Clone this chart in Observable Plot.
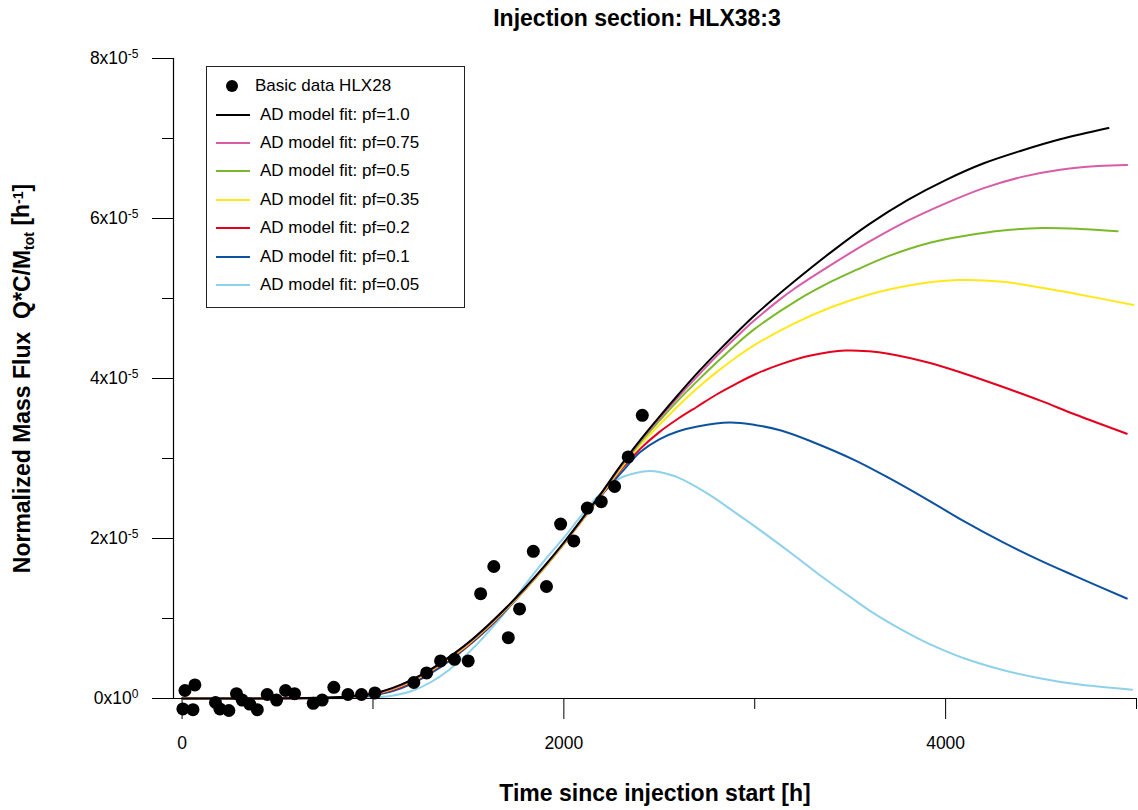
<!DOCTYPE html>
<html><head><meta charset="utf-8">
<script src="https://cdn.jsdelivr.net/npm/d3@7"></script>
<script src="https://cdn.jsdelivr.net/npm/@observablehq/plot@0.6"></script>
<style>
body{margin:0;background:#fff;font-family:"Liberation Sans",Arial,sans-serif;}
#wrap{position:relative;width:1138px;height:810px;}
#legend{position:absolute;left:206px;top:66px;width:257px;height:235px;border:1px solid #222;background:#fff;padding-top:5px;}
.row{height:28.4px;display:flex;align-items:center;font-size:17px;color:#000;white-space:nowrap;}
.row svg{flex:none;}
</style></head><body><div id="wrap"></div>
<script>
// ---- data (values in units of 1e-5 h^-1) ----
const obsT = [4,15,57,67,175,198,245,285,315,354,394,446,495,542,589,687,734,795,869,940,1010,1214,1281,1354,1427,1499,1564,1633,1709,1768,1840,1909,1983,2052,2123,2196,2266,2337,2411];
const obsQ = [-0.13,0.10,-0.14,0.17,-0.05,-0.13,-0.15,0.06,-0.02,-0.07,-0.14,0.05,-0.02,0.10,0.06,-0.06,-0.02,0.14,0.05,0.05,0.07,0.20,0.32,0.47,0.49,0.47,1.31,1.65,0.76,1.12,1.84,1.40,2.18,1.97,2.38,2.46,2.65,3.02,3.54];

const tEarly = [0,400,800,900,1000,1100,1200,1300,1400,1500,1600,1700,1800,1900,2000,2100,2200,2300];

const tPf100 = [2400,2500,2600,2700,2800,2900,3000,3100,3200,3400,3600,3800,4000,4200,4400,4600,4853];
const qPf100 = [0,0,0.015,0.03,0.06,0.13,0.23,0.36,0.52,0.70,0.91,1.14,1.39,1.66,1.95,2.26,2.58,2.92,
                3.23,3.52,3.80,4.07,4.32,4.56,4.79,5.00,5.20,5.58,5.93,6.23,6.48,6.69,6.85,6.99,7.13];

const tPf075 = [2400,2500,2600,2700,2800,2900,3000,3127,3200,3400,3600,3800,4000,4200,4400,4600,4800,4951];
const qPf075 = [0,0,0.014,0.028,0.058,0.125,0.225,0.355,0.515,0.695,0.905,1.135,1.385,1.655,1.945,2.255,2.575,2.91,
                3.22,3.50,3.77,4.03,4.28,4.51,4.73,4.98,5.11,5.42,5.71,5.97,6.19,6.38,6.52,6.61,6.655,6.67];

const tPf050 = [2400,2500,2600,2700,2800,2900,3000,3224,3400,3535,3700,3923,4117,4300,4505,4700,4901];
const qPf050 = [0,0,0.013,0.027,0.055,0.12,0.22,0.35,0.51,0.69,0.90,1.13,1.38,1.65,1.94,2.25,2.57,2.90,
                3.20,3.47,3.73,3.97,4.20,4.42,4.62,4.98,5.21,5.36,5.53,5.70,5.79,5.85,5.88,5.87,5.84];

const tPf035 = [2400,2500,2600,2700,2800,2900,3000,3200,3400,3600,3800,4062,4300,4487,4700,4984];
const qPf035 = [0,0,0.012,0.025,0.052,0.115,0.21,0.34,0.50,0.68,0.89,1.12,1.37,1.64,1.93,2.24,2.56,2.88,
                3.17,3.42,3.66,3.88,4.08,4.26,4.42,4.68,4.89,5.05,5.16,5.23,5.21,5.14,5.05,4.92];

const tPf020 = [2400,2500,2600,2700,2800,2900,3000,3138,3300,3476,3600,3700,3908,4100,4294,4500,4679,4949];
const qPf020 = [0,0,0.010,0.022,0.048,0.105,0.20,0.33,0.49,0.67,0.88,1.12,1.37,1.64,1.93,2.24,2.55,2.86,
                3.12,3.33,3.50,3.65,3.80,3.93,4.05,4.18,4.29,4.35,4.34,4.31,4.20,4.06,3.90,3.72,3.55,3.31];

const tPf010 = [2400,2500,2600,2700,2869,3000,3138,3300,3523,3700,3908,4100,4294,4500,4679,4949];
const qPf010 = [0,0,0.008,0.018,0.04,0.09,0.18,0.31,0.47,0.66,0.87,1.11,1.37,1.65,1.94,2.25,2.55,2.82,
                3.08,3.24,3.34,3.40,3.45,3.42,3.35,3.21,2.98,2.76,2.48,2.21,1.96,1.72,1.53,1.25];

const tPf005 = [2400,2455,2500,2600,2753,2900,3042,3200,3331,3500,3620,3800,3908,4100,4294,4500,4679,4977];
const qPf005 = [0,0,0.002,0.005,0.012,0.035,0.09,0.20,0.36,0.57,0.82,1.10,1.43,1.73,2.01,2.31,2.58,2.76,
                2.83,2.845,2.83,2.76,2.56,2.32,2.08,1.80,1.56,1.27,1.07,0.82,0.69,0.50,0.36,0.25,0.18,0.11];

const seriesNames = ["AD model fit: pf=1.0","AD model fit: pf=0.75","AD model fit: pf=0.5","AD model fit: pf=0.35","AD model fit: pf=0.2","AD model fit: pf=0.1","AD model fit: pf=0.05"];
const seriesColors = ["#000000","#d95ca6","#7ab929","#ffe81a","#e6001e","#0d52a0","#8ed1ea"];
const seriesLate = [tPf100,tPf075,tPf050,tPf035,tPf020,tPf010,tPf005];
const seriesQ = [qPf100,qPf075,qPf050,qPf035,qPf020,qPf010,qPf005];

const xMajor = [0,2000,4000];
const xMinor = [1000,3000,5000];
const yMajor = [0,2,4,6,8];
const yMinor = [1,3,5,7];

const titleText = "Injection section: HLX38:3";
const xLabel = "Time since injection start [h]";
const obsName = "Basic data HLX28";

// ---- build ----
const S = 1e-5;
const points = obsT.map((t,i)=>({t, q: obsQ[i]*S}));
const series = seriesNames.map((name,k)=>{
  const ts = tEarly.concat(seriesLate[k]);
  return ts.map((t,i)=>({t, q: seriesQ[k][i]*S, name}));
});
const xMin = -45, xMax = 5000;
const font = '"Liberation Sans", Arial, sans-serif';
const YL = "__YLABEL__";

const lineMarks = [];
for (let k = series.length-1; k >= 0; k--) {
  lineMarks.push(Plot.line(series[k], {x:"t", y:"q", stroke: seriesColors[k], strokeWidth: 2, curve: "catmull-rom"}));
}

const plot = Plot.plot({
  width: 1138, height: 810,
  marginLeft: 173, marginRight: 2, marginTop: 58, marginBottom: 112,
  style: {fontFamily: font, background: "#fff", color: "#000"},
  x: {domain: [xMin, xMax]},
  y: {domain: [0, 8*S]},
  marks: [
    Plot.axisX(xMajor, {tickSize: 21, tickPadding: 17, fontSize: 17.5, label: null, tickFormat: d => String(d)}),
    Plot.axisX(xMinor, {tickSize: 11, label: null, tickFormat: () => ""}),
    Plot.axisY(yMajor.map(v=>v*S), {tickSize: 21, tickPadding: 14, fontSize: 17.5, label: null,
      tickFormat: d => { const m = Math.round(d/S); return m + "x10|" + (m===0 ? "0" : "-5"); }}),
    Plot.axisY(yMinor.map(v=>v*S), {tickSize: 11, label: null, tickFormat: () => ""}),
    ...lineMarks,
    Plot.ruleY([0], {stroke: "#000", strokeWidth: 1.2}),
    Plot.ruleX([xMin], {y1: 0, y2: 8*S, stroke: "#000", strokeWidth: 1.2}),
    Plot.dot(points, {x: "t", y: "q", r: 6.5, fill: "#000", stroke: "none"}),
    Plot.text([titleText], {frameAnchor: "top", dy: -40, dx: -18, fontSize: 23, fontWeight: "bold", textAnchor: "middle", lineAnchor: "middle"}),
    Plot.text([xLabel], {frameAnchor: "bottom", dy: 95, fontSize: 23, fontWeight: "bold", textAnchor: "middle", lineAnchor: "middle"}),
    Plot.text([YL], {frameAnchor: "left", dx: -151, rotate: -90, fontSize: 23, fontWeight: "bold", textAnchor: "middle", lineAnchor: "middle"})
  ]
});

// superscript tick labels
d3.select(plot).selectAll('text').filter(function(){ return this.textContent.includes("|"); }).each(function(){
  const s = d3.select(this); const parts = s.text().split("|");
  s.text("");
  s.append("tspan").text(parts[0]);
  s.append("tspan").attr("dy","-0.55em").attr("font-size","12px").text(parts[1]);
});
// y axis label with sub/superscripts
d3.select(plot).selectAll('text').filter(function(){ return this.textContent === YL; }).each(function(){
  const s = d3.select(this); s.text(""); s.style("white-space","pre");
  s.append("tspan").text("Normalized Mass Flux  Q*C/M");
  s.append("tspan").attr("dy","0.3em").attr("font-size","14px").text("tot");
  s.append("tspan").attr("dy","-0.2em").text(" [h");
  s.append("tspan").attr("dy","-0.45em").attr("font-size","14px").text("-1");
  s.append("tspan").attr("dy","0.3em").text("]");
});

const wrap = document.getElementById("wrap");
wrap.appendChild(plot);

// legend
const lg = document.createElement("div"); lg.id = "legend";
const dotRow = document.createElement("div"); dotRow.className = "row";
dotRow.innerHTML = `<svg width="48" height="20"><circle cx="25" cy="10" r="6" fill="#000"/></svg><span>${obsName}</span>`;
lg.appendChild(dotRow);
seriesNames.forEach((n,k)=>{
  const r = document.createElement("div"); r.className = "row";
  r.innerHTML = `<svg width="53" height="20"><line x1="9" x2="43" y1="10" y2="10" stroke="${seriesColors[k]}" stroke-width="2"/></svg><span>${n}</span>`;
  lg.appendChild(r);
});
wrap.appendChild(lg);
</script></body></html>
